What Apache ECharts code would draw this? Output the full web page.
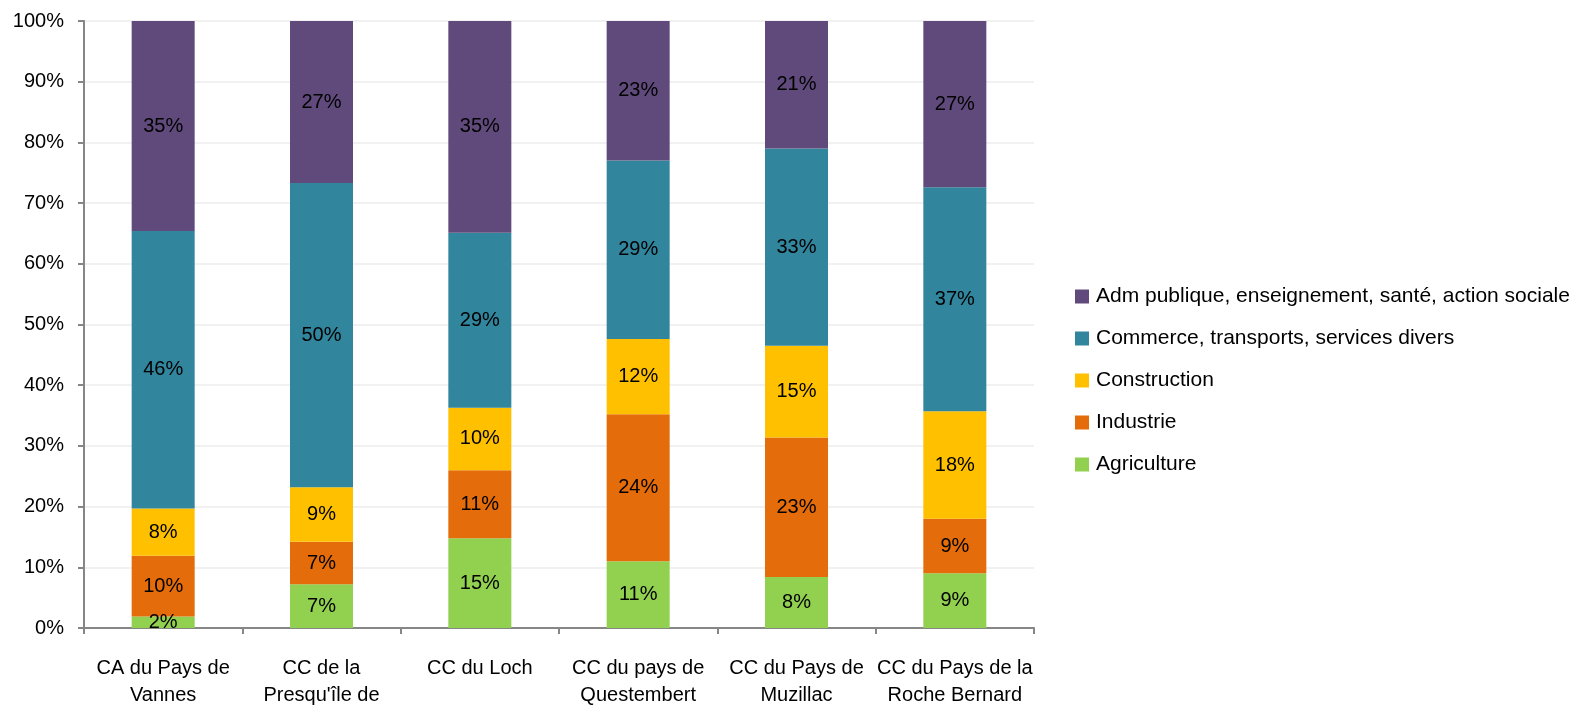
<!DOCTYPE html>
<html>
<head>
<meta charset="utf-8">
<script src="https://cdn.jsdelivr.net/npm/echarts@6/dist/echarts.min.js"></script>
<style>
  html, body { margin: 0; padding: 0; background: #fff; }
  #chart { width: 1578px; height: 706px; }
</style>
</head>
<body>
<div id="chart"></div>
<script>
// territories (x axis)
var territoires = [
    "CA du Pays de\nVannes",
    "CC de la\nPresqu'île de",
    "CC du Loch",
    "CC du pays de\nQuestembert",
    "CC du Pays de\nMuzillac",
    "CC du Pays de la\nRoche Bernard"
];

// share of jobs per sector, in %
var agriculture  = [1.9, 7.2, 14.8, 11.0, 8.4, 9.0];
var industrie    = [10.0, 7.0, 11.2, 24.2, 23.0, 9.0];
var construction = [7.8, 9.0, 10.3, 12.4, 15.1, 17.7];
var commerce     = [45.7, 50.1, 28.8, 29.4, 32.5, 36.9];
var admPublique  = [34.6, 26.7, 34.9, 23.0, 21.0, 27.4];

var FONT = '"Liberation Sans", Arial, sans-serif';

function makeSerie(name, data, color) {
    return {
        name: name,
        type: 'bar',
        stack: 'total',
        barWidth: 63,
        data: data,
        itemStyle: { color: color },
        label: {
            show: true,
            position: 'inside',
            color: '#000',
            fontFamily: FONT,
            fontSize: 20,
            formatter: function (p) {
                return Math.round(p.value) + '%';
            }
        }
    };
}

var chart = echarts.init(document.getElementById('chart'));

var option = {
    animation: false,
    backgroundColor: '#fff',
    grid: {
        left: 84,
        top: 21,
        right: 544,
        bottom: 78,
        containLabel: false,
        outerBoundsMode: 'none'
    },
    legend: {
        orient: 'vertical',
        left: 1070,
        top: 281,
        itemWidth: 14,
        itemHeight: 14,
        itemGap: 21,
        icon: 'rect',
        textStyle: { fontFamily: FONT, fontSize: 21, color: '#000', padding: [0, 0, 0, 2] },
        data: [
            'Adm publique, enseignement, santé, action sociale',
            'Commerce, transports, services divers',
            'Construction',
            'Industrie',
            'Agriculture'
        ]
    },
    xAxis: {
        type: 'category',
        data: territoires,
        axisLine: { lineStyle: { color: '#868686', width: 2 } },
        axisTick: { show: true, alignWithLabel: false, length: 6, lineStyle: { color: '#868686', width: 2 } },
        axisLabel: {
            interval: 0,
            margin: 27,
            color: '#000',
            fontFamily: FONT,
            fontSize: 20,
            lineHeight: 27
        }
    },
    yAxis: {
        type: 'value',
        min: 0,
        max: 100,
        interval: 10,
        axisLine: { show: true, lineStyle: { color: '#868686', width: 2 } },
        axisTick: { show: true, length: 6, lineStyle: { color: '#868686', width: 2 } },
        splitLine: { lineStyle: { color: '#ececec', width: 1.5 } },
        axisLabel: {
            margin: 20,
            color: '#000',
            fontFamily: FONT,
            fontSize: 20,
            formatter: '{value}%'
        }
    },
    series: [
        makeSerie('Agriculture', agriculture, '#92D050'),
        makeSerie('Industrie', industrie, '#E46C0A'),
        makeSerie('Construction', construction, '#FFC000'),
        makeSerie('Commerce, transports, services divers', commerce, '#31859C'),
        makeSerie('Adm publique, enseignement, santé, action sociale', admPublique, '#604A7B')
    ]
};

chart.setOption(option);
</script>
</body>
</html>
